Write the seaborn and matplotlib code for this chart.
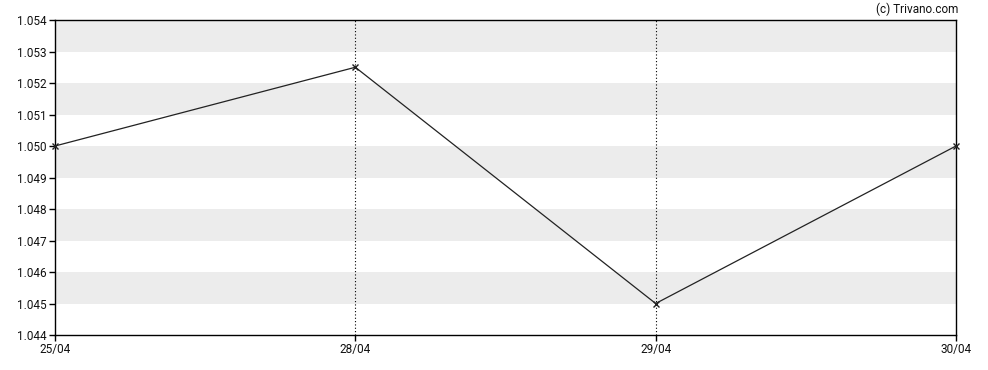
import matplotlib
matplotlib.use("Agg")
import matplotlib.pyplot as plt
import seaborn as sns
import numpy as np

# data
dates = ['25/04', '28/04', '29/04', '30/04']
prices = [1.0500, 1.0525, 1.0450, 1.0500]
y_ticks = [1.044, 1.045, 1.046, 1.047, 1.048, 1.049, 1.050, 1.051, 1.052, 1.053, 1.054]

sns.set_style("white")
plt.rcParams['font.family'] = ['Roboto', 'DejaVu Sans']

fig = plt.figure(figsize=(9.88, 3.70), dpi=100)
ax = fig.add_axes([55 / 988, 1 - 335 / 370, (956 - 55) / 988, (335 - 20) / 370])

# alternating grey bands
for i in range(len(y_ticks) - 1):
    if (len(y_ticks) - 2 - i) % 2 == 0:
        ax.axhspan(y_ticks[i], y_ticks[i + 1], color='#ececec', lw=0, zorder=0)

x_pos = np.arange(len(dates))
for x in x_pos[1:-1]:
    ax.axvline(x, color='black', ls=(0, (1, 2)), lw=0.8, zorder=1)

sns.lineplot(x=x_pos, y=prices, ax=ax, color='#222222', lw=0.9,
             marker='x', markersize=4, markeredgewidth=1.0,
             markeredgecolor='#222222', zorder=3, clip_on=False)

ax.set_xlim(x_pos[0], x_pos[-1])
ax.set_ylim(y_ticks[0], y_ticks[-1])
ax.set_xticks(x_pos)
ax.set_xticklabels(dates)
ax.set_yticks(y_ticks)
ax.set_yticklabels([f"{v:.3f}" for v in y_ticks])

for s in ax.spines.values():
    s.set_color('black')
    s.set_linewidth(1.0)
    s.set_visible(True)
ax.tick_params(axis='both', direction='out', length=4, width=1, color='black',
               labelsize=8.5, labelcolor='#111111', pad=2, left=True, bottom=True)

fig.text(958 / 988, 1 - 9 / 370, '(c) Trivano.com', ha='right', va='center',
         fontsize=8.5, color='#111111')

plt.savefig('out.png', dpi=100)
